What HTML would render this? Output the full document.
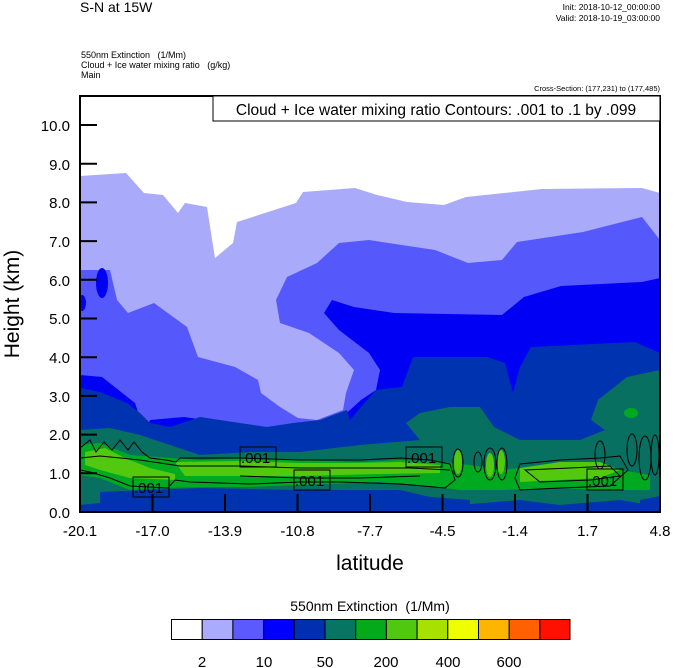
<!DOCTYPE html>
<html><head><meta charset="utf-8"><style>
html,body{margin:0;padding:0;background:#fff}
svg{display:block;font-family:"Liberation Sans",Arial,sans-serif}
</style></head><body>
<svg width="674" height="668" viewBox="0 0 674 668" xmlns="http://www.w3.org/2000/svg">
<text x="80" y="12" font-size="14">S-N at 15W</text>
<text x="660" y="10" font-size="8.5" text-anchor="end">Init: 2018-10-12_00:00:00</text>
<text x="660" y="21" font-size="8.5" text-anchor="end">Valid: 2018-10-19_03:00:00</text>
<text x="81" y="58" font-size="9">550nm Extinction&#160;&#160; (1/Mm)</text>
<text x="81" y="68" font-size="9">Cloud + Ice water mixing ratio&#160;&#160; (g/kg)</text>
<text x="81" y="78" font-size="9">Main</text>
<text x="660" y="91" font-size="7.5" text-anchor="end">Cross-Section: (177,231) to (177,485)</text>
<defs><clipPath id="c"><rect x="80" y="96" width="580" height="416"/></clipPath></defs>
<g clip-path="url(#c)">
<rect x="80" y="96" width="580" height="416" fill="#fff"/>
<polygon fill="#a9aaf9" points="80,176 126,173 144,193 163,195 178,213 185,203 207,207 211,233 215,258 233,243 237,222 296,203 303,192 355,188 377,195 407,202 444,205 466,197 542,189 642,188 660,193 660,512 80,512"/>
<polygon fill="#5558fb" points="660,240 642,217 583,232 517,242 502,260 468,263 435,250 369,240 339,243 317,263 287,277 276,300 280,323 309,333 339,353 354,370 346,393 343,410 317,420 298,418 280,407 261,393 258,380 235,367 198,357 187,327 154,303 128,313 117,300 110,270 80,270 80,512 660,512"/>
<polygon fill="#0000f5" points="660,278 642,282 561,286 524,297 502,315 394,313 354,307 332,300 324,313 339,330 369,353 380,370 376,390 361,400 339,420 302,437 265,427 228,423 184,417 150,420 145,433 135,403 102,377 80,375 80,512 660,512"/>
<ellipse cx="102" cy="283" rx="6" ry="15" fill="#0000f5"/>
<ellipse cx="82" cy="303" rx="4" ry="8" fill="#0000f5"/>
<polygon fill="#0033b0" points="660,353 635,342 531,347 520,367 513,393 505,363 487,357 413,357 402,387 376,390 361,407 350,420 347,410 320,420 293,423 267,427 233,422 200,417 170,427 150,423 140,413 127,403 100,392 81,388 80,388 80,512 660,512"/>
<polygon fill="#077060" points="660,370 627,377 598,400 591,420 605,430 580,440 520,440 494,427 480,407 450,407 420,413 406,423 420,440 360,445 300,452 250,452 200,455 170,445 140,435 110,428 80,430 80,505 130,500 200,495 300,495 380,492 420,500 460,505 520,500 560,505 620,500 650,505 660,500"/>
<polygon fill="#0033b0" points="100,492 200,488 300,490 380,490 400,490 430,497 470,500 470,512 100,512"/>
<polygon fill="#0033b0" points="640,500 660,496 660,512 640,512"/>
<ellipse cx="631" cy="413" rx="7" ry="5" fill="#00aa20"/>
<polygon fill="#00aa20" points="80,445 100,443 130,455 170,458 200,460 250,458 300,460 360,462 400,460 440,462 470,465 500,470 540,466 580,465 620,470 650,475 650,490 600,490 560,488 500,490 460,490 420,485 380,482 300,485 250,487 200,487 160,488 130,490 100,478 80,475"/>
<polygon fill="#52c80f" points="85,452 105,448 125,458 150,468 175,474 175,480 130,478 100,470 85,465"/>
<polygon fill="#52c80f" points="175,462 240,461 300,463 350,463 400,462 440,465 440,473 380,474 300,476 240,476 185,476"/>
<polygon fill="#52c80f" points="520,468 560,462 600,462 620,470 600,478 560,480 520,482"/>
<ellipse cx="458" cy="462" rx="4" ry="12" fill="#52c80f"/>
<ellipse cx="490" cy="465" rx="4" ry="12" fill="#52c80f"/>
<ellipse cx="501" cy="462" rx="4" ry="12" fill="#52c80f"/>
<g fill="none" stroke="#000" stroke-width="1">
<path d="M80,448 L90,440 96,452 104,442 112,450 120,440 128,450 134,442 142,452 150,458 166,460 176,462 180,458 240,458 300,460 360,460 400,458 430,460 450,464 455,480 445,488 400,484 340,482 300,482 250,484 190,482 175,480 168,488 130,486 110,478 90,472 80,470"/>
<path d="M80,458 L100,456 140,460 180,466 240,466 300,468 360,468 410,468 450,470 M240,476 L300,478 360,478 420,476"/>
<path d="M520,464 L560,460 600,458 620,456 628,470 610,486 560,488 520,490 515,478 Z"/>
<path d="M525,470 L570,468 610,466 620,476 590,480 540,482 Z"/>
<ellipse cx="458" cy="463" rx="5" ry="14"/><ellipse cx="478" cy="462" rx="4" ry="10"/>
<ellipse cx="490" cy="464" rx="6" ry="16"/><ellipse cx="502" cy="464" rx="5" ry="16"/>
<ellipse cx="600" cy="455" rx="5" ry="14"/><ellipse cx="632" cy="450" rx="5" ry="16"/>
<ellipse cx="645" cy="458" rx="6" ry="22"/><ellipse cx="655" cy="455" rx="4" ry="20"/>
</g>
<g font-size="14" stroke="#000" stroke-width="1">
<rect x="133" y="477" width="36" height="20" fill="none"/>
<rect x="240" y="447" width="36" height="20" fill="none"/>
<rect x="294" y="470" width="36" height="20" fill="none"/>
<rect x="406" y="447" width="36" height="20" fill="none"/>
<rect x="587" y="469" width="36" height="21" fill="none"/>
</g>
<g font-size="15" fill="#000">
<text x="134" y="493">.001</text><text x="241" y="463">.001</text>
<text x="295" y="486">.001</text><text x="407" y="463">.001</text>
<text x="588" y="486">.001</text>
</g>
</g>
<rect x="80" y="96" width="580" height="416" fill="none" stroke="#000" stroke-width="2"/>
<rect x="213" y="96" width="447" height="25" fill="#fff" stroke="#000" stroke-width="1"/>
<text x="436" y="115" font-size="15.5" text-anchor="middle">Cloud + Ice water mixing ratio Contours: .001 to .1 by .099</text>
<g stroke="#000" stroke-width="2">
<line x1="80" y1="473.3" x2="97" y2="473.3"/><line x1="80" y1="434.6" x2="97" y2="434.6"/>
<line x1="80" y1="395.9" x2="97" y2="395.9"/><line x1="80" y1="357.2" x2="97" y2="357.2"/>
<line x1="80" y1="318.5" x2="97" y2="318.5"/><line x1="80" y1="279.8" x2="97" y2="279.8"/>
<line x1="80" y1="241.1" x2="97" y2="241.1"/><line x1="80" y1="202.4" x2="97" y2="202.4"/>
<line x1="80" y1="163.7" x2="97" y2="163.7"/><line x1="80" y1="125" x2="97" y2="125"/>
<line x1="152.5" y1="512" x2="152.5" y2="494"/><line x1="225" y1="512" x2="225" y2="494"/>
<line x1="297.5" y1="512" x2="297.5" y2="494"/><line x1="370" y1="512" x2="370" y2="494"/>
<line x1="442.5" y1="512" x2="442.5" y2="494"/><line x1="515" y1="512" x2="515" y2="494"/>
<line x1="587.5" y1="512" x2="587.5" y2="494"/>
</g>
<g font-size="15" text-anchor="end">
<text x="70" y="518">0.0</text><text x="70" y="479">1.0</text><text x="70" y="440">2.0</text>
<text x="70" y="402">3.0</text><text x="70" y="363">4.0</text><text x="70" y="324">5.0</text>
<text x="70" y="286">6.0</text><text x="70" y="247">7.0</text><text x="70" y="208">8.0</text>
<text x="70" y="170">9.0</text><text x="70" y="131">10.0</text>
</g>
<g font-size="15" text-anchor="middle">
<text x="80" y="536">-20.1</text><text x="152.5" y="536">-17.0</text><text x="225" y="536">-13.9</text>
<text x="297.5" y="536">-10.8</text><text x="370" y="536">-7.7</text><text x="442.5" y="536">-4.5</text>
<text x="515" y="536">-1.4</text><text x="587.5" y="536">1.7</text><text x="660" y="536">4.8</text>
</g>
<text x="370" y="570" font-size="21" text-anchor="middle">latitude</text>
<text transform="translate(19,304) rotate(-90)" font-size="21" text-anchor="middle">Height (km)</text>
<text x="370" y="611" font-size="14" text-anchor="middle">550nm Extinction&#160; (1/Mm)</text>
<g stroke="#000" stroke-width="1">
<rect x="171.5" y="619.5" width="30.7" height="20" fill="#fff"/>
<rect x="202.2" y="619.5" width="30.7" height="20" fill="#aaaaff"/>
<rect x="232.9" y="619.5" width="30.7" height="20" fill="#5a5aff"/>
<rect x="263.6" y="619.5" width="30.7" height="20" fill="#0000ff"/>
<rect x="294.3" y="619.5" width="30.7" height="20" fill="#0030b0"/>
<rect x="325" y="619.5" width="30.7" height="20" fill="#067562"/>
<rect x="355.7" y="619.5" width="30.7" height="20" fill="#05aa1a"/>
<rect x="386.4" y="619.5" width="30.7" height="20" fill="#50c810"/>
<rect x="417.1" y="619.5" width="30.7" height="20" fill="#a8e000"/>
<rect x="447.8" y="619.5" width="30.7" height="20" fill="#f0ff00"/>
<rect x="478.5" y="619.5" width="30.7" height="20" fill="#ffb400"/>
<rect x="509.2" y="619.5" width="30.7" height="20" fill="#ff6000"/>
<rect x="539.9" y="619.5" width="30.1" height="20" fill="#ff1000"/>
</g>
<g font-size="15" text-anchor="middle">
<text x="202" y="667">2</text><text x="264" y="667">10</text><text x="325" y="667">50</text>
<text x="386" y="667">200</text><text x="448" y="667">400</text><text x="509" y="667">600</text>
</g>
</svg>
</body></html>
